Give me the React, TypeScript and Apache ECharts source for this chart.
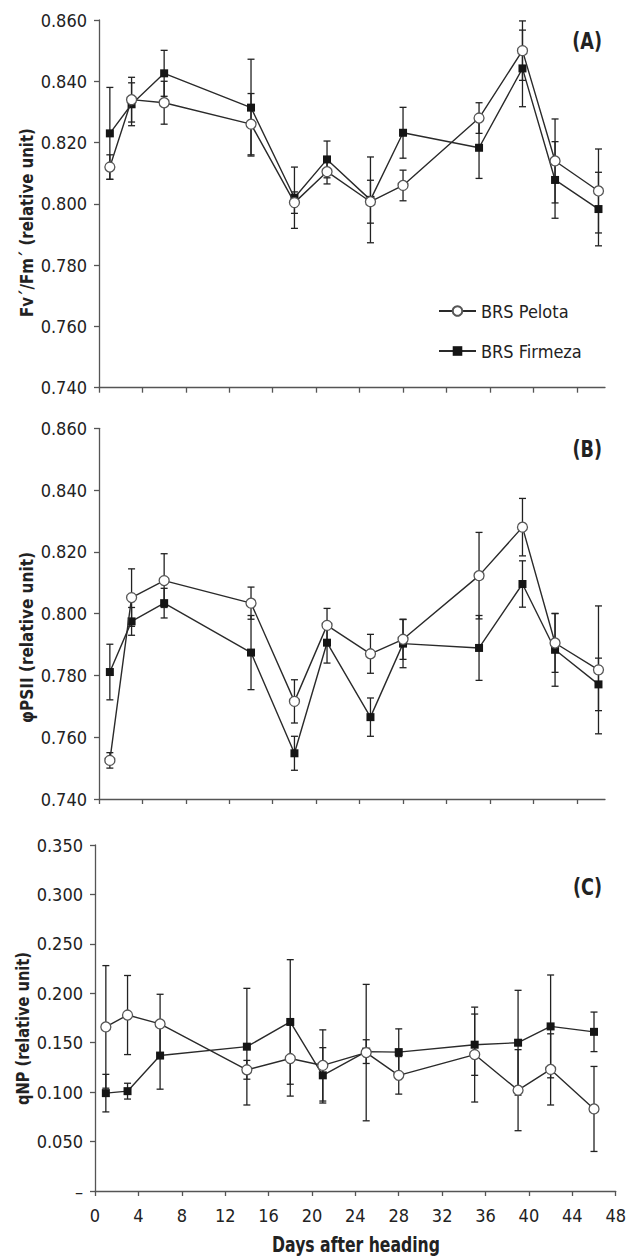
import React, { useEffect, useRef } from "react";
import * as echarts from "echarts";

const days = [1, 3, 6, 14, 18, 21, 25, 28, 35, 39, 42, 46];

// Panel A: Fv'/Fm'
const pelotaA = [0.812, 0.834, 0.833, 0.826, 0.8004, 0.8105, 0.8007, 0.806, 0.828, 0.85, 0.814, 0.8042];
const pelotaAErr = [0.004, 0.0073, 0.007, 0.01, 0.0035, 0.004, 0.007, 0.005, 0.005, 0.0097, 0.0137, 0.0137];
const firmezaA = [0.823, 0.8325, 0.8426, 0.8314, 0.802, 0.8145, 0.8013, 0.8232, 0.8183, 0.8442, 0.8078, 0.7983];
const firmezaAErr = [0.015, 0.007, 0.0075, 0.0158, 0.01, 0.006, 0.014, 0.0083, 0.01, 0.0125, 0.0125, 0.012];

// Panel B: phiPSII
const pelotaB = [0.7525, 0.8052, 0.8107, 0.8034, 0.7716, 0.7962, 0.787, 0.7917, 0.8123, 0.828, 0.7905, 0.7818];
const pelotaBErr = [0.0025, 0.0093, 0.0087, 0.0052, 0.007, 0.0055, 0.0063, 0.0065, 0.014, 0.0093, 0.0095, 0.0207];
const firmezaB = [0.7811, 0.7975, 0.8034, 0.7874, 0.7548, 0.7906, 0.7665, 0.7903, 0.7889, 0.8096, 0.7883, 0.7771];
const firmezaBErr = [0.009, 0.0045, 0.0048, 0.012, 0.0055, 0.0066, 0.0062, 0.0078, 0.0105, 0.0075, 0.0118, 0.0085];

// Panel C: qNP
const pelotaC = [0.166, 0.178, 0.169, 0.1226, 0.134, 0.127, 0.14, 0.117, 0.138, 0.102, 0.123, 0.083];
const pelotaCErr = [0.062, 0.04, 0.03, 0.0095, 0.038, 0.036, 0.069, 0.019, 0.048, 0.041, 0.036, 0.043];
const firmezaC = [0.099, 0.101, 0.137, 0.146, 0.171, 0.117, 0.141, 0.1405, 0.148, 0.15, 0.1665, 0.161];
const firmezaCErr = [0.019, 0.008, 0.034, 0.059, 0.063, 0.028, 0.012, 0.0235, 0.031, 0.053, 0.052, 0.02];

const xTicksTop = [0, 4, 8, 12, 16, 20, 24, 28, 32, 36, 40, 44];
const yTitles = ["Fv\u00b4/Fm\u00b4 (relative unit)", "\u03c6PSII (relative unit)", "qNP (relative unit)"];
const panelLabels = ["(A)", "(B)", "(C)"];
const xTitle = "Days after heading";
const seriesNames = ["BRS Pelota", "BRS Firmeza"];

const FONT = "'DejaVu Sans Condensed', 'DejaVu Sans', sans-serif";
const AXIS = "#555";
const INK = "#222";

function errData(means: number[], errs: number[]) {
  return days.map((d, i) => [d, means[i] - errs[i], means[i] + errs[i]]);
}
function pts(means: number[]) {
  return days.map((d, i) => [d, means[i]]);
}

function fitScale(text: string, font: string, target: number) {
  const c = document.createElement("canvas").getContext("2d");
  if (!c) return 1;
  c.font = font;
  const w = c.measureText(text).width;
  return w > 0 ? target / w : 1;
}

const renderErr = (params: any, api: any) => {
  const x = api.value(0);
  const lo = api.value(1);
  const hi = api.value(2);
  const a = api.coord([x, hi]);
  const b = api.coord([x, lo]);
  const w = 3.5;
  const style = { stroke: INK, lineWidth: 1.3 };
  return {
    type: "group",
    children: [
      { type: "line", shape: { x1: a[0], y1: a[1], x2: b[0], y2: b[1] }, style },
      { type: "line", shape: { x1: a[0] - w, y1: a[1], x2: a[0] + w, y2: a[1] }, style },
      { type: "line", shape: { x1: b[0] - w, y1: b[1], x2: b[0] + w, y2: b[1] }, style },
    ],
  };
};

export default function App() {
  const ref = useRef<HTMLDivElement>(null);
  useEffect(() => {
    document.body.style.margin = "0";
    const chart = echarts.init(ref.current!, null, { renderer: "svg" });

    const grids = [
      { left: 99, top: 20, width: 506, height: 367.7 },
      { left: 99, top: 428.3, width: 506, height: 370.7 },
      { left: 95, top: 845, width: 521.3, height: 346 },
    ];

    const xAxes = [0, 1, 2].map((i) => ({
      type: "value",
      gridIndex: i,
      min: 0,
      max: i < 2 ? 46.6 : 48,
      interval: 4,
      axisLine: { show: true, lineStyle: { color: AXIS, width: 1.3 } },
      axisTick: i < 2
        ? { show: true, length: 5, lineStyle: { color: AXIS, width: 1.3 }, customValues: xTicksTop }
        : { show: true, length: 5, lineStyle: { color: AXIS, width: 1.3 } },
      axisLabel: i < 2
        ? { show: false }
        : { show: true, margin: 15, fontSize: 18, color: INK, fontFamily: FONT },
      splitLine: { show: false },
    }));

    const yRanges = [
      { min: 0.74, max: 0.86, interval: 0.02 },
      { min: 0.74, max: 0.86, interval: 0.02 },
      { min: 0, max: 0.35, interval: 0.05 },
    ];
    const yAxes = [0, 1, 2].map((i) => ({
      type: "value",
      gridIndex: i,
      ...yRanges[i],
      axisLine: { show: true, lineStyle: { color: AXIS, width: 1.3 } },
      axisTick: { show: true, length: 5, lineStyle: { color: AXIS, width: 1.3 } },
      axisLabel: {
        margin: 12,
        fontSize: 18,
        color: INK,
        fontFamily: FONT,
        formatter: (v: number) => (i === 2 && Math.abs(v) < 1e-9 ? "\u2013" : v.toFixed(3)),
      },
      splitLine: { show: false },
    }));

    const panels = [
      [pelotaA, pelotaAErr, firmezaA, firmezaAErr],
      [pelotaB, pelotaBErr, firmezaB, firmezaBErr],
      [pelotaC, pelotaCErr, firmezaC, firmezaCErr],
    ];

    const series: any[] = [];
    panels.forEach((p, i) => {
      const [pm, pe, fm, fe] = p as number[][];
      series.push({
        type: "custom",
        xAxisIndex: i,
        yAxisIndex: i,
        renderItem: renderErr,
        encode: { x: 0, y: [1, 2] },
        data: errData(pm, pe),
        z: 1,
        silent: true,
      });
      series.push({
        type: "custom",
        xAxisIndex: i,
        yAxisIndex: i,
        renderItem: renderErr,
        encode: { x: 0, y: [1, 2] },
        data: errData(fm, fe),
        z: 1,
        silent: true,
      });
      series.push({
        name: seriesNames[0],
        type: "line",
        xAxisIndex: i,
        yAxisIndex: i,
        data: pts(pm),
        symbol: "circle",
        symbolSize: 10,
        z: 3,
        lineStyle: { color: "#2a2a2a", width: 1.4 },
        itemStyle: { color: "#ffffff", borderColor: "#555", borderWidth: 1.3 },
      });
      series.push({
        name: seriesNames[1],
        type: "line",
        xAxisIndex: i,
        yAxisIndex: i,
        data: pts(fm),
        symbol: "rect",
        symbolSize: 8,
        z: 2,
        lineStyle: { color: "#2a2a2a", width: 1.4 },
        itemStyle: { color: "#151515" },
      });
    });

    // Condensed-looking titles: scale text along its reading direction
    const yTitleFont = "bold 18px 'DejaVu Sans Condensed'";
    const yTitleLen = [189, 171, 153];
    const yTitlePos = [[27, 222.5], [27, 637.5], [23, 1028.5]];
    const yTitleGraphics = yTitles.map((t, i) => ({
      type: "text",
      x: yTitlePos[i][0],
      y: yTitlePos[i][1],
      rotation: Math.PI / 2,
      scaleX: fitScale(t, yTitleFont, yTitleLen[i]),
      scaleY: 1,
      style: {
        text: t,
        fontSize: 18,
        fontWeight: "bold",
        fontFamily: FONT,
        fill: INK,
        align: "center",
        verticalAlign: "middle",
      },
    }));

    const xTitleFont = "bold 21px 'DejaVu Sans Condensed'";
    const xTitleGraphic = {
      type: "text",
      x: 356,
      y: 1245,
      scaleX: fitScale(xTitle, xTitleFont, 168),
      style: {
        text: xTitle,
        fontSize: 21,
        fontWeight: "bold",
        fontFamily: FONT,
        fill: INK,
        align: "center",
        verticalAlign: "middle",
      },
    };

    const labelY = [41, 449, 887];
    const panelGraphics = panelLabels.map((t, i) => ({
      type: "text",
      x: 602,
      y: labelY[i],
      scaleX: 0.85,
      style: {
        text: t,
        fontSize: 23,
        fontWeight: "bold",
        fill: INK,
        fontFamily: FONT,
        align: "right",
        verticalAlign: "middle",
      },
    }));

    chart.setOption({
      animation: false,
      backgroundColor: "#ffffff",
      grid: grids,
      xAxis: xAxes,
      yAxis: yAxes,
      legend: {
        data: seriesNames,
        orient: "vertical",
        left: 433,
        top: 296,
        itemWidth: 37,
        itemHeight: 12,
        itemGap: 20,
        textStyle: { fontSize: 18, color: INK, fontFamily: FONT, lineHeight: 20 },
        selectedMode: false,
      },
      graphic: [...yTitleGraphics, xTitleGraphic, ...panelGraphics],
      series,
    });
    return () => chart.dispose();
  }, []);
  return <div ref={ref} style={{ width: 629, height: 1257, position: "absolute", left: 0, top: 0 }} />;
}
